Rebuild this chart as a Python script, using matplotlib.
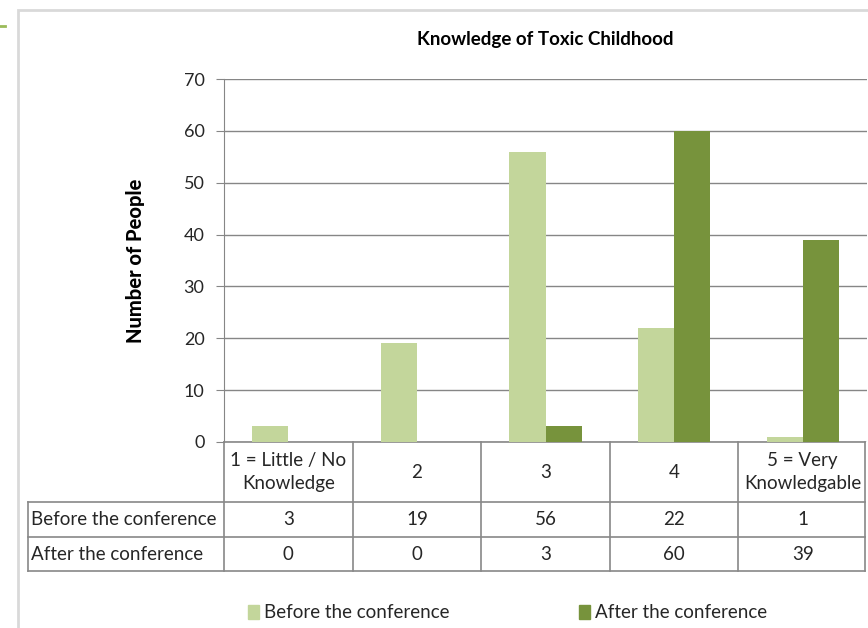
import matplotlib.pyplot as plt
import matplotlib.transforms as mtransforms
from matplotlib.lines import Line2D
from matplotlib.patches import Rectangle
import numpy as np

plt.rcParams['font.family'] = ['Lato', 'DejaVu Sans']

# Data
categories = ['1 = Little / No\nKnowledge', '2', '3', '4', '5 = Very\nKnowledgable']
before = [3, 19, 56, 22, 1]
after = [0, 0, 3, 60, 39]
series_names = ['Before the conference', 'After the conference']
colors = ['#C3D69B', '#77933C']

W, H = 868, 628
fig = plt.figure(figsize=(W / 100, H / 100), dpi=100)

# chart area border (light gray), partly cut off
fig.add_artist(Rectangle((18 / W, -0.1), 1.2, 1 - 10 / H + 0.1, transform=fig.transFigure,
                         fill=False, ec='#D9D9D9', lw=2))
fig.add_artist(Line2D([0, 5 / W], [1 - 26 / H] * 2, transform=fig.transFigure,
                      color='#9BBB59', lw=2))

left, right = 224 / W, 867 / W
bottom, top = 1 - 442 / H, 1 - 79 / H
ax = fig.add_axes([left, bottom, right - left, top - bottom])

x = np.arange(len(categories))
bw = 0.28
ax.bar(x - bw / 2, before, bw, color=colors[0], zorder=3)
ax.bar(x + bw / 2, after, bw, color=colors[1], zorder=3)

ax.set_xlim(-0.5, len(categories) - 0.5)
ax.set_ylim(0, 70)
ax.set_yticks(range(0, 71, 10))
ax.yaxis.grid(True, color='#868686', lw=1, zorder=0)
ax.set_xticks([])
for s in ['top', 'right', 'bottom']:
    ax.spines[s].set_visible(False)
ax.spines['left'].set_color('#868686')
ax.tick_params(axis='y', length=6, color='#868686', labelsize=13, pad=8, labelcolor='#262626')
ax.set_ylabel('Number of People', fontsize=14.5, fontweight='black', labelpad=28)

fig.text(545 / W, 1 - 40 / H, 'Knowledge of Toxic Childhood', ha='center', va='center',
         fontsize=13.5, fontweight='bold')

# data table under the axis
tr = mtransforms.blended_transform_factory(ax.transData, ax.transAxes)
px = 1 / 363
y_head = -60 * px
y_r1 = -95 * px
y_r2 = -129 * px
x_lab = -0.5 - 197 / 129
x_end = 4.485
lc = '#888888'
kw = dict(transform=tr, color=lc, lw=1.2, clip_on=False)
ax.add_line(Line2D([-0.5, x_end], [0, 0], **kw))
for b in list(np.arange(-0.5, 4.0, 1.0)) + [x_end]:
    ax.add_line(Line2D([b, b], [0, y_r2], **kw))
for yy in [y_head, y_r1, y_r2]:
    ax.add_line(Line2D([x_lab, x_end], [yy, yy], **kw))
ax.add_line(Line2D([x_lab, x_lab], [y_head, y_r2], **kw))

tkw = dict(transform=tr, fontsize=13.5, color='#262626', va='center')
for i, c in enumerate(categories):
    ax.text(i, y_head / 2, c, ha='center', linespacing=1.45, **tkw)
    ax.text(i, (y_head + y_r1) / 2, str(before[i]), ha='center', **tkw)
    ax.text(i, (y_r1 + y_r2) / 2, str(after[i]), ha='center', **tkw)
ax.text(x_lab + 0.03, (y_head + y_r1) / 2, series_names[0], ha='left', **tkw)
ax.text(x_lab + 0.03, (y_r1 + y_r2) / 2, series_names[1], ha='left', **tkw)

# legend, drawn as boxes + labels
for sx, name, c in zip([248, 579], series_names, colors):
    fig.add_artist(Rectangle((sx / W, 1 - 619 / H), 11 / W, 14 / H,
                             transform=fig.transFigure, color=c))
    fig.text((sx + 16) / W, 1 - 612 / H, name, ha='left', va='center',
             fontsize=13.5, color='#262626')

fig.savefig('out.png', dpi=100)
